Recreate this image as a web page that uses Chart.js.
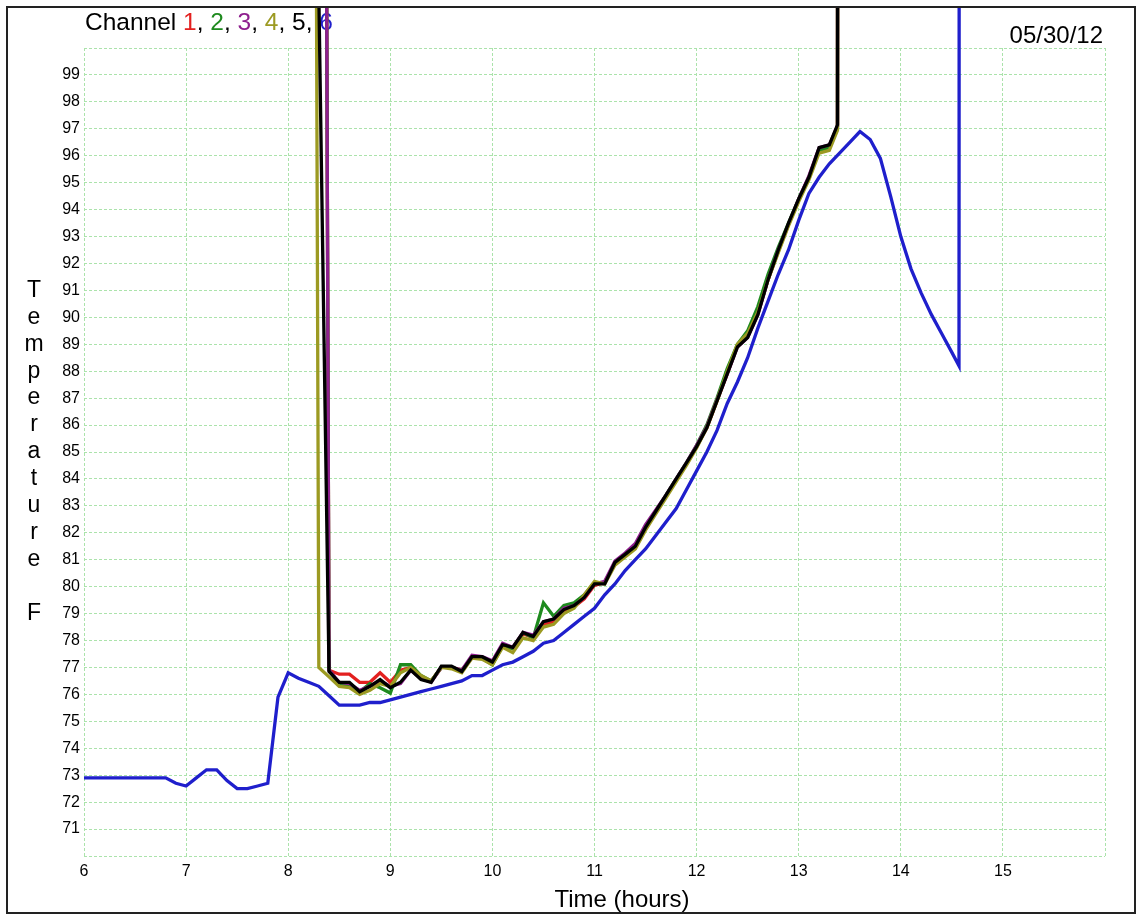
<!DOCTYPE html>
<html>
<head>
<meta charset="utf-8">
<title>Channel temperatures 05/30/12</title>
<script src="https://cdn.jsdelivr.net/npm/chart.js@4.4.0/dist/chart.umd.min.js"></script>
<style>
  body { margin: 0; background: #fff; }
  canvas { display: block; }
</style>
</head>
<body>
<canvas id="tempChart" width="1142" height="915"></canvas>
<script>
// sample times (hours) for channel 6, which logged the whole day
const hours = [
  6.0, 6.1, 6.2, 6.3, 6.4, 6.5, 6.6, 6.7, 6.8, 6.9,
  7.0, 7.1, 7.2, 7.3, 7.4, 7.5, 7.6, 7.7, 7.8, 7.9,
  8.0, 8.1, 8.2, 8.3, 8.4, 8.5, 8.6, 8.7, 8.8, 8.9,
  9.0, 9.1, 9.2, 9.3, 9.4, 9.5, 9.6, 9.7, 9.8, 9.9,
  10.0, 10.1, 10.2, 10.3, 10.4, 10.5, 10.6, 10.7, 10.8, 10.9,
  11.0, 11.1, 11.2, 11.3, 11.4, 11.5, 11.6, 11.7, 11.8, 11.9,
  12.0, 12.1, 12.2, 12.3, 12.4, 12.5, 12.6, 12.7, 12.8, 12.9,
  13.0, 13.1, 13.2, 13.3, 13.4, 13.5, 13.6, 13.7, 13.8, 13.9,
  14.0, 14.1, 14.2, 14.3, 14.4, 14.5, 14.57, 14.67
];
const channel6 = [
  72.9, 72.9, 72.9, 72.9, 72.9, 72.9, 72.9, 72.9, 72.9, 72.7,
  72.6, 72.9, 73.2, 73.2, 72.8, 72.5, 72.5, 72.6, 72.7, 75.9,
  76.8, 76.6, 76.45, 76.3, 75.95, 75.6, 75.6, 75.6, 75.7, 75.7,
  75.8, 75.9, 76.0, 76.1, 76.2, 76.3, 76.4, 76.5, 76.7, 76.7,
  76.9, 77.1, 77.2, 77.4, 77.6, 77.9, 78.0, 78.3, 78.6, 78.9,
  79.2, 79.7, 80.1, 80.6, 81.0, 81.4, 81.9, 82.4, 82.9, 83.6,
  84.3, 85.0, 85.8, 86.8, 87.6, 88.5, 89.6, 90.6, 91.6, 92.5,
  93.6, 94.6, 95.2, 95.7, 96.1, 96.5, 96.9, 96.6, 95.9, 94.5,
  93.0, 91.8, 90.9, 90.1, 89.4, 88.7, 88.2, 999
];

// channels 1-5 were plugged in around 8.3 h (off-scale readings before that)
const probeHours = [
  8.2, 8.3, 8.4, 8.5, 8.6, 8.7, 8.8, 8.9,
  9.0, 9.1, 9.2, 9.3, 9.4, 9.5, 9.6, 9.7, 9.8, 9.9,
  10.0, 10.1, 10.2, 10.3, 10.4, 10.5, 10.6, 10.7, 10.8, 10.9,
  11.0, 11.1, 11.2, 11.3, 11.4, 11.5, 11.6, 11.7, 11.8, 11.9,
  12.0, 12.1, 12.2, 12.3, 12.4, 12.5, 12.6, 12.7, 12.8, 12.9,
  13.0, 13.1, 13.2, 13.3, 13.38, 13.48
];
const channel1 = [
  185, 185, 76.9, 76.75, 76.75, 76.45, 76.45, 76.8,
  76.45, 76.9, 77.0, 76.65, 76.5, 77.0, 77.0, 76.9, 77.35, 77.35,
  77.15, 77.8, 77.7, 78.25, 78.1, 78.6, 78.7, 79.1, 79.25, 79.55,
  80.05, 80.15, 80.85, 81.15, 81.5, 82.2, 82.75, 83.35, 83.95, 84.55,
  85.2, 85.9, 86.9, 87.9, 88.95, 89.3, 90.15, 91.4, 92.45, 93.45,
  94.35, 95.2, 96.25, 96.35, 97.1, 999
];
const channel2 = [
  185, 185, 76.9, 76.4, 76.3, 76.1, 76.4, 76.25,
  76.05, 77.1, 77.1, 76.7, 76.5, 77.0, 77.0, 76.85, 77.4, 77.35,
  77.1, 77.8, 77.7, 78.3, 78.1, 79.4, 78.9, 79.3, 79.4, 79.7,
  80.15, 80.15, 80.9, 81.2, 81.5, 82.25, 82.8, 83.4, 84.0, 84.6,
  85.25, 86.0, 87.0, 88.1, 89.0, 89.5, 90.4, 91.6, 92.6, 93.5,
  94.4, 95.2, 96.2, 96.3, 97.0, 999
];
const channel3 = [
  185, 185, 76.9, 76.45, 76.4, 76.15, 76.3, 76.5,
  76.3, 76.4, 76.9, 76.6, 76.45, 77.0, 77.0, 76.9, 77.45, 77.4,
  77.25, 77.9, 77.75, 78.3, 78.2, 78.7, 78.8, 79.2, 79.3, 79.6,
  80.1, 80.2, 80.95, 81.25, 81.6, 82.3, 82.85, 83.4, 84.0, 84.6,
  85.25, 85.95, 86.95, 87.9, 88.9, 89.25, 90.1, 91.4, 92.5, 93.45,
  94.4, 95.25, 96.3, 96.4, 97.1, 999
];
const channel4 = [
  185, 77.0, 76.65, 76.3, 76.25, 76.0, 76.15, 76.4,
  76.3, 76.8, 77.0, 76.7, 76.5, 77.0, 76.95, 76.8, 77.35, 77.3,
  77.1, 77.75, 77.55, 78.1, 78.0, 78.5, 78.6, 79.0, 79.2, 79.7,
  80.2, 80.1, 80.8, 81.1, 81.4, 82.1, 82.7, 83.3, 83.9, 84.5,
  85.15, 85.9, 86.9, 88.0, 89.0, 89.4, 90.2, 91.4, 92.4, 93.4,
  94.3, 95.1, 96.1, 96.2, 96.95, 999
];
const channel5 = [
  185, 102, 76.85, 76.45, 76.45, 76.1, 76.3, 76.55,
  76.25, 76.45, 76.9, 76.55, 76.45, 77.05, 77.05, 76.85, 77.4, 77.4,
  77.2, 77.85, 77.75, 78.3, 78.15, 78.7, 78.8, 79.15, 79.3, 79.6,
  80.1, 80.1, 80.9, 81.2, 81.5, 82.2, 82.8, 83.4, 84.0, 84.6,
  85.2, 85.9, 86.9, 87.9, 88.9, 89.25, 90.1, 91.4, 92.5, 93.5,
  94.4, 95.2, 96.3, 96.4, 97.15, 999
];

const channelNames = ['1', '2', '3', '4', '5', '6'];
const channelColors = ['#e3201f', '#1e8a1e', '#8e1f8e', '#9c9a22', '#000000', '#1f1fcc'];
const logDate = '05/30/12';
const xTitle = 'Time (hours)';
const yTitle = ['T', 'e', 'm', 'p', 'e', 'r', 'a', 't', 'u', 'r', 'e', '', 'F'];

const FONT = '"Liberation Sans", Arial, sans-serif';

function series(xs, ys) {
  return ys.map((v, i) => ({ x: xs[i], y: v }));
}

const seriesData = [
  series(probeHours, channel1),
  series(probeHours, channel2),
  series(probeHours, channel3),
  series(probeHours, channel4),
  series(probeHours, channel5),
  series(hours, channel6)
];

// header, date and axis titles go under the traces; the outer frame on top
const chartText = {
  id: 'chartText',
  beforeDatasetsDraw(chart) {
    const ctx = chart.ctx;
    const yScale = chart.scales.y;
    ctx.save();
    ctx.font = `24.5px ${FONT}`;
    ctx.textBaseline = 'alphabetic';
    ctx.textAlign = 'left';
    let x = 85;
    const put = (text, color) => {
      ctx.fillStyle = color;
      ctx.fillText(text, x, 30);
      x += ctx.measureText(text).width;
    };
    put('Channel ', '#000');
    channelNames.forEach((name, i) => {
      put(name, channelColors[i]);
      if (i < channelNames.length - 1) put(', ', '#000');
    });

    ctx.fillStyle = '#000';
    ctx.textAlign = 'right';
    ctx.font = `24px ${FONT}`;
    ctx.fillText(logDate, 1103, 43);

    ctx.textAlign = 'center';
    ctx.fillText(xTitle, 622, 907);

    ctx.font = `23px ${FONT}`;
    ctx.textBaseline = 'middle';
    yTitle.forEach((ch, i) => {
      if (ch) ctx.fillText(ch, 34, yScale.getPixelForValue(91 - i));
    });
    ctx.restore();
  },
  afterDraw(chart) {
    const ctx = chart.ctx;
    ctx.save();
    ctx.strokeStyle = '#222';
    ctx.lineWidth = 2;
    ctx.strokeRect(7, 7, 1128, 906);
    ctx.restore();
  }
};

const gridStyle = {
  color: '#abe3ab',
  lineWidth: 1,
  drawTicks: false,
  borderDash: [3, 2]
};

new Chart(document.getElementById('tempChart'), {
  type: 'line',
  data: {
    datasets: seriesData.map((data, i) => ({
      label: 'Channel ' + channelNames[i],
      data,
      borderColor: channelColors[i],
      backgroundColor: channelColors[i],
      borderWidth: 3.3,
      pointRadius: 0,
      tension: 0,
      fill: false,
      order: seriesData.length - 1 - i,
      clip: { left: 0, top: 40, right: 0, bottom: 0 }
    }))
  },
  options: {
    responsive: false,
    animation: false,
    layout: { padding: { top: 48, right: 37, left: 0, bottom: 0 } },
    plugins: {
      legend: { display: false },
      tooltip: { enabled: false }
    },
    scales: {
      x: {
        type: 'linear',
        min: 6,
        max: 16,
        grid: gridStyle,
        border: { display: false, dash: [3, 2] },
        ticks: {
          stepSize: 1,
          autoSkip: false,
          maxRotation: 0,
          padding: 6,
          color: '#000',
          font: { family: FONT, size: 16 },
          callback: v => (v < 16 ? v : '')
        },
        afterFit: s => { s.height = 59; }
      },
      y: {
        min: 70,
        max: 100,
        grid: gridStyle,
        border: { display: false, dash: [3, 2] },
        ticks: {
          stepSize: 1,
          autoSkip: false,
          padding: 4,
          color: '#000',
          font: { family: FONT, size: 16 },
          callback: v => (v > 70 && v < 100 ? v : '')
        },
        afterFit: s => { s.width = 84; }
      }
    }
  },
  plugins: [chartText]
});
</script>
</body>
</html>
